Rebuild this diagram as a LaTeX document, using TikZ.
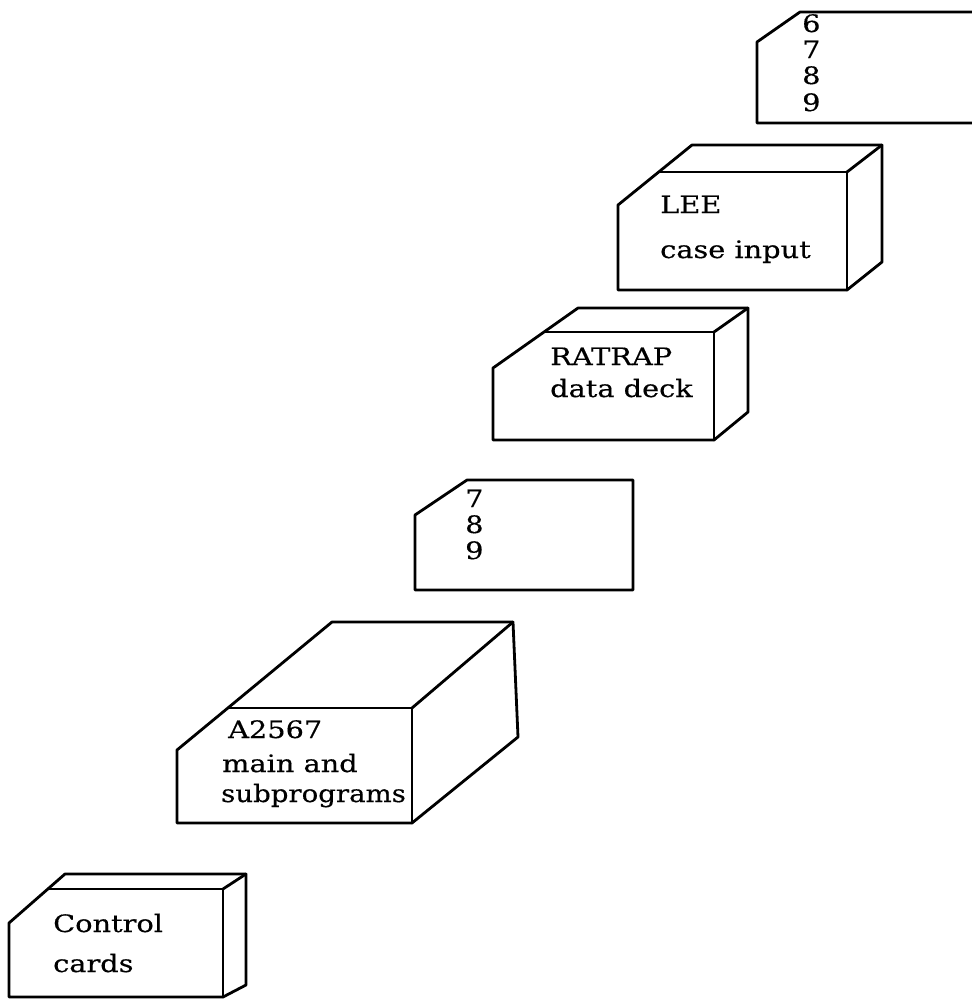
\documentclass[tikz,border=0pt]{standalone}
\usepackage{fontspec}
\setmainfont{DejaVu Serif}[FakeStretch=1.2,FakeBold=0.4]
\begin{document}
\begin{tikzpicture}[x=1pt,y=-1pt,
  box/.style={line width=2.8pt, line join=round, line cap=round},
  lbl/.style={anchor=base west, inner sep=0pt, font=\fontsize{24}{28}\selectfont}]
\useasboundingbox (0,0) rectangle (972,999);
% top card 6 7 8 9
\draw[box] (975,12) -- (800,12) -- (757,42) -- (757,123) -- (975,123);
\node[lbl] (c1a) at (802,32) {6};
\node[lbl] (c1b) at (802,58) {7};
\node[lbl] (c1c) at (802,84) {8};
\node[lbl] (c1d) at (802,111) {9};
% LEE box
\draw[box] (692,145) -- (882,145) -- (882,262) -- (847,290) -- (618,290) -- (618,205) -- cycle;
\draw[box] (659,172) -- (847,172) -- (847,290);
\draw[box] (847,172) -- (882,145);
\node[lbl] (lee1) at (660,213) {LEE};
\node[lbl] (lee2) at (660,258) {case input};
% RATRAP box
\draw[box] (578,308) -- (748,308) -- (748,412) -- (714,440) -- (493,440) -- (493,368) -- cycle;
\draw[box] (544,332) -- (714,332) -- (714,440);
\draw[box] (714,332) -- (748,308);
\node[lbl] (rat1) at (550,365) {RATRAP};
\node[lbl] (rat2) at (550,397) {data deck};
% card 7 8 9
\draw[box] (467,480) -- (633,480) -- (633,590) -- (415,590) -- (415,515) -- cycle;
\node[lbl] (c2a) at (465,507) {7};
\node[lbl] (c2b) at (465,533) {8};
\node[lbl] (c2c) at (465,559) {9};
% A2567 box
\draw[box] (332,622) -- (513,622) -- (518,737) -- (412,823) -- (177,823) -- (177,750) -- cycle;
\draw[box] (228,708) -- (412,708) -- (412,823);
\draw[box] (412,708) -- (513,622);
\node[lbl] (a1) at (228,738) {A2567};
\node[lbl] (a2) at (222,772) {main and};
\node[lbl] (a3) at (221,802) {\addfontfeature{FakeStretch=1.15}subprograms};
% Control cards box
\draw[box] (65,874) -- (246,874) -- (246,985) -- (223,997) -- (9,997) -- (9,923) -- cycle;
\draw[box] (48,889) -- (223,889) -- (223,997);
\draw[box] (223,889) -- (246,874);
\node[lbl] (cc1) at (53,932) {Control};
\node[lbl] (cc2) at (53,972) {cards};
\end{tikzpicture}
\end{document}
